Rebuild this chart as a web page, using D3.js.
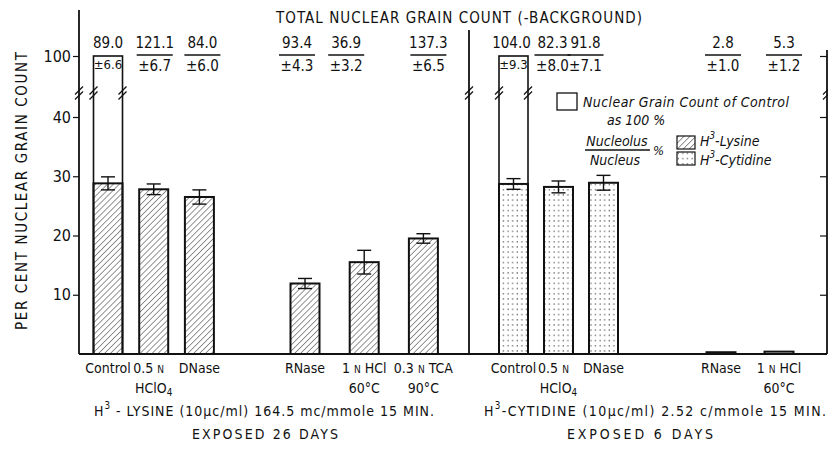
<!DOCTYPE html>
<html>
<head>
<meta charset="utf-8">
<script src="https://cdn.jsdelivr.net/npm/d3@7"></script>
<style>
  body { margin: 0; background: #fff; }
  svg { display: block; }
  text { font-family: "Liberation Sans Narrow", "DejaVu Sans Condensed", "Roboto Condensed", "Liberation Sans", sans-serif; font-stretch: condensed; fill: #111; }
  .it { font-style: italic; }
</style>
</head>
<body>
<div id="chart"></div>
<script>
// nucleolus / nucleus grain count (%), H3-lysine, exposed 26 days
const lysineCats = ['Control', '0.5 N|HClO4', 'DNase', 'RNase', '1 N HCl|60°C', '0.3 N TCA|90°C'];
const lysinePct = [28.8, 27.8, 26.5, 11.9, 15.5, 19.5];
const lysineErr = [1.1, 0.9, 1.2, 0.85, 2.0, 0.8];
const lysineTotal = [89.0, 121.1, 84.0, 93.4, 36.9, 137.3];
const lysineTotalSd = [6.6, 6.7, 6.0, 4.3, 3.2, 6.5];

// H3-cytidine, exposed 6 days
const cytidineCats = ['Control', '0.5 N|HClO4', 'DNase', 'RNase', '1 N HCl|60°C'];
const cytidinePct = [28.7, 28.2, 28.9, 0.3, 0.4];
const cytidineErr = [0.9, 1.0, 1.25, 0, 0];
const cytidineTotal = [104.0, 82.3, 91.8, 2.8, 5.3];
const cytidineTotalSd = [9.3, 8.0, 7.1, 1.0, 1.2];

const yTicks = [10, 20, 30, 40, 100];

const width = 828;
const height = 452;
const base = 354;
const barW = 29;
const fmt = d3.format('.1f');

// y axis is broken between 40 and 100
const y = d3.scaleLinear().domain([0, 40, 100]).range([base, 117, 56]);

// each experiment has two blocks of bars with their own spacing
const blocks = [
  { key: 'lys', from: 0, to: 3, c0: 108, step: 45.7 },
  { key: 'lys', from: 3, to: 6, c0: 305, step: 59.2 },
  { key: 'cyt', from: 0, to: 3, c0: 513.5, step: 45 },
  { key: 'cyt', from: 3, to: 5, c0: 721, step: 58 },
];
const labelNudge = {
  lys: [0, 1, 3, -8, -18, 5],
  cyt: [-2, -6, -18, 2, 5],
};

const series = {
  lys: { cats: lysineCats, pct: lysinePct, err: lysineErr, total: lysineTotal, sd: lysineTotalSd, fill: 'url(#hatch)' },
  cyt: { cats: cytidineCats, pct: cytidinePct, err: cytidineErr, total: cytidineTotal, sd: cytidineTotalSd, fill: 'url(#dots)' },
};

const rows = [];
blocks.forEach((b) => {
  const s = series[b.key];
  const cats = s.cats.slice(b.from, b.to);
  const n = cats.length;
  const p = 1 - barW / b.step;
  const x = d3.scaleBand()
    .domain(cats)
    .range([b.c0 - b.step / 2, b.c0 - b.step / 2 + b.step * n])
    .paddingInner(p)
    .paddingOuter(p / 2);
  cats.forEach((c, j) => {
    const i = b.from + j;
    rows.push({
      key: b.key, i, cat: c, x0: x(c), cx: x(c) + x.bandwidth() / 2, w: x.bandwidth(),
      pct: s.pct[i], err: s.err[i], total: s.total[i], sd: s.sd[i], fill: s.fill,
    });
  });
});

const svg = d3.select('#chart').append('svg')
  .attr('width', width)
  .attr('height', height);

svg.append('rect').attr('width', width).attr('height', height).attr('fill', '#fff');

const defs = svg.append('defs');
defs.append('pattern')
  .attr('id', 'hatch')
  .attr('patternUnits', 'userSpaceOnUse')
  .attr('width', 4.2)
  .attr('height', 4.2)
  .attr('patternTransform', 'rotate(45)')
  .append('line')
  .attr('x1', 0).attr('y1', 0).attr('x2', 0).attr('y2', 4.2)
  .attr('stroke', '#111')
  .attr('stroke-width', 0.9);
const dots = defs.append('pattern')
  .attr('id', 'dots')
  .attr('patternUnits', 'userSpaceOnUse')
  .attr('width', 4.6)
  .attr('height', 5.2);
dots.append('rect').attr('width', 4.6).attr('height', 5.2).attr('fill', '#fff');
dots.append('rect').attr('x', 1.5).attr('y', 2).attr('width', 1.2).attr('height', 1.1).attr('fill', '#333');

// rich text: small-cap "N" for normality, subscript in HClO4, superscript 3
function richText(g, x, yy, str, size, anchor) {
  const t = g.append('text')
    .attr('x', x).attr('y', yy)
    .attr('text-anchor', anchor || 'middle')
    .attr('font-size', size);
  let back = 0;
  const put = (txt, fs, dy) => {
    const ts = t.append('tspan').text(txt);
    if (fs) ts.attr('font-size', fs);
    if (dy + back) ts.attr('dy', dy + back);
    back = -dy;
  };
  str.split(/(\bN\b|O4|\^3)/).forEach((part) => {
    if (part === 'N') put('N', size * 0.72, 0);
    else if (part === 'O4') { put('O', null, 0); put('4', size * 0.7, 3); }
    else if (part === '^3') put('3', size * 0.7, -7);
    else if (part) put(part, null, 0);
  });
  return t;
}

const ink = '#111';

// open boxes: nuclear grain count of control = 100 %
const controls = rows.filter(d => d.i === 0);
svg.append('g').selectAll('rect')
  .data(controls)
  .join('rect')
  .attr('x', d => d.x0)
  .attr('y', y(100))
  .attr('width', d => d.w)
  .attr('height', base - y(100))
  .attr('fill', 'none')
  .attr('stroke', ink)
  .attr('stroke-width', 1.6);

// bars
svg.append('g').selectAll('rect')
  .data(rows)
  .join('rect')
  .attr('x', d => d.x0)
  .attr('y', d => y(d.pct))
  .attr('width', d => d.w)
  .attr('height', d => base - y(d.pct))
  .attr('fill', d => d.fill)
  .attr('stroke', ink)
  .attr('stroke-width', 2);

// error bars
const eb = svg.append('g').attr('stroke', ink).attr('stroke-width', 1.4);
rows.filter(d => d.err > 0).forEach((d) => {
  eb.append('line').attr('x1', d.cx).attr('x2', d.cx).attr('y1', y(d.pct + d.err)).attr('y2', y(d.pct - d.err));
  eb.append('line').attr('x1', d.cx - 7).attr('x2', d.cx + 7).attr('y1', y(d.pct + d.err)).attr('y2', y(d.pct + d.err));
  eb.append('line').attr('x1', d.cx - 7).attr('x2', d.cx + 7).attr('y1', y(d.pct - d.err)).attr('y2', y(d.pct - d.err));
});

// axes
const leftX = 79;
const rightX = 827;
const midX = 469;
const frame = svg.append('g').attr('stroke', ink).attr('stroke-width', 1.8);
frame.append('line').attr('x1', leftX).attr('x2', leftX).attr('y1', 10).attr('y2', base);
frame.append('line').attr('x1', rightX).attr('x2', rightX).attr('y1', 50).attr('y2', base);
frame.append('line').attr('x1', midX).attr('x2', midX).attr('y1', 30).attr('y2', base);
frame.append('line').attr('x1', leftX).attr('x2', rightX).attr('y1', base).attr('y2', base).attr('stroke-width', 2);

const yAxis = d3.axisLeft(y).tickValues(yTicks).tickSize(6).tickPadding(2).tickSizeOuter(0);
const gy = svg.append('g')
  .attr('transform', `translate(${leftX},0)`)
  .call(yAxis);
gy.select('.domain').remove();
gy.selectAll('.tick line').attr('stroke', ink).attr('stroke-width', 1.2);
gy.selectAll('.tick text').attr('font-size', 16).attr('fill', ink);

const gr = svg.append('g')
  .attr('transform', `translate(${rightX},0)`)
  .call(d3.axisLeft(y).tickValues(yTicks).tickSize(7).tickFormat(''));
gr.select('.domain').remove();
gr.selectAll('.tick line').attr('stroke', ink).attr('stroke-width', 1.2);

// axis break marks
const breakY = 93;
const brk = svg.append('g').attr('stroke', ink).attr('stroke-width', 1.2);
[leftX, midX, rightX].concat(controls.flatMap(d => [d.x0, d.x0 + d.w])).forEach((bx) => {
  [-2.5, 2.5].forEach((o) => {
    brk.append('line')
      .attr('x1', bx - 4).attr('y1', breakY + o + 4)
      .attr('x2', bx + 4).attr('y2', breakY + o - 4);
  });
});

// y label
svg.append('text')
  .attr('transform', 'translate(27,191) rotate(-90)')
  .attr('text-anchor', 'middle')
  .attr('font-size', 15)
  .attr('textLength', 278)
  .attr('lengthAdjust', 'spacing')
  .text('PER CENT NUCLEAR GRAIN COUNT');

// top title
svg.append('text')
  .attr('x', 459).attr('y', 23)
  .attr('text-anchor', 'middle')
  .attr('font-size', 15)
  .attr('textLength', 366)
  .attr('lengthAdjust', 'spacing')
  .text('TOTAL NUCLEAR GRAIN COUNT (-BACKGROUND)');

// total grain counts with SD
const tg = svg.append('g');
rows.forEach((d) => {
  const lx = d.cx + labelNudge[d.key][d.i];
  tg.append('text').attr('x', lx).attr('y', 48).attr('text-anchor', 'middle').attr('font-size', 15).text(fmt(d.total));
  if (d.i === 0) {
    tg.append('text').attr('x', d.cx).attr('y', 69).attr('text-anchor', 'middle').attr('font-size', 13).text(`±${fmt(d.sd)}`);
  } else {
    tg.append('line').attr('x1', lx - 18).attr('x2', lx + 18).attr('y1', 55).attr('y2', 55).attr('stroke', ink).attr('stroke-width', 1.3);
    tg.append('text').attr('x', lx).attr('y', 71).attr('text-anchor', 'middle').attr('font-size', 15).text(`±${fmt(d.sd)}`);
  }
});

// category labels
const cg = svg.append('g');
rows.forEach((d) => {
  d.cat.split('|').forEach((line, k) => {
    richText(cg, d.cx + (k === 0 && line.startsWith('0.5') ? -5 : 0), 373 + k * 20, line, 14);
  });
});

// experiment captions
richText(svg, 264, 416, 'H^3 - LYSINE (10\u00b5c/ml) 164.5 mc/mmole 15 MIN.', 14)
  .attr('textLength', 340).attr('lengthAdjust', 'spacing');
svg.append('text').attr('x', 265).attr('y', 439).attr('text-anchor', 'middle').attr('font-size', 14)
  .attr('textLength', 146).attr('lengthAdjust', 'spacing').text('EXPOSED 26 DAYS');
richText(svg, 655, 416, 'H^3-CYTIDINE (10\u00b5c/ml) 2.52 c/mmole 15 MIN.', 14)
  .attr('textLength', 342).attr('lengthAdjust', 'spacing');
svg.append('text').attr('x', 640).attr('y', 439).attr('text-anchor', 'middle').attr('font-size', 14)
  .attr('textLength', 146).attr('lengthAdjust', 'spacing').text('EXPOSED 6 DAYS');

// legend
const lg = svg.append('g');
lg.append('rect').attr('x', 557).attr('y', 93).attr('width', 20).attr('height', 17).attr('fill', 'none').attr('stroke', ink).attr('stroke-width', 1.3);
lg.append('text').attr('class', 'it').attr('x', 583).attr('y', 107).attr('font-size', 14)
  .attr('textLength', 206).attr('lengthAdjust', 'spacing').text('Nuclear Grain Count of Control');
lg.append('text').attr('class', 'it').attr('x', 607).attr('y', 125).attr('font-size', 14).text('as 100 %');
lg.append('text').attr('class', 'it').attr('x', 617).attr('y', 146).attr('text-anchor', 'middle').attr('font-size', 14).text('Nucleolus');
lg.append('line').attr('x1', 585).attr('x2', 650).attr('y1', 150).attr('y2', 150).attr('stroke', ink).attr('stroke-width', 1.3);
lg.append('text').attr('class', 'it').attr('x', 615).attr('y', 165).attr('text-anchor', 'middle').attr('font-size', 14).text('Nucleus');
lg.append('text').attr('class', 'it').attr('x', 653).attr('y', 155).attr('font-size', 13).text('%');
lg.append('rect').attr('x', 677).attr('y', 136).attr('width', 18).attr('height', 13).attr('fill', 'url(#hatch)').attr('stroke', ink).attr('stroke-width', 1.2);
lg.append('rect').attr('x', 677).attr('y', 152).attr('width', 18).attr('height', 13).attr('fill', 'url(#dots)').attr('stroke', ink).attr('stroke-width', 1.2);
richText(lg, 700, 146, 'H^3-Lysine', 14, 'start').attr('class', 'it');
richText(lg, 700, 165, 'H^3-Cytidine', 14, 'start').attr('class', 'it');
</script>
</body>
</html>
